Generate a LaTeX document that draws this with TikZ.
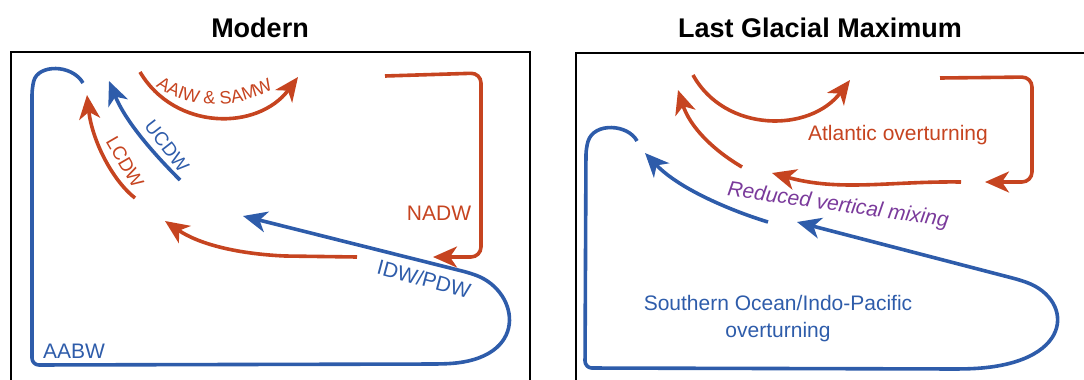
\documentclass[tikz,border=0pt]{standalone}
\usepackage{fontspec}
\setmainfont{Liberation Sans}
\usetikzlibrary{arrows.meta,decorations.text}
\definecolor{ored}{RGB}{198,68,32}
\definecolor{oblue}{RGB}{46,92,170}
\definecolor{opurple}{RGB}{122,58,155}
\begin{document}
\begin{tikzpicture}[x=1pt,y=-1pt,
  flow/.style={line width=3.6pt},
  redflow/.style={flow, draw=ored},
  blueflow/.style={flow, draw=oblue},
  tip/.style={-{Stealth[length=24pt,width=21pt,inset=7pt]}},
  frame/.style={draw=black, line width=2pt},
  title/.style={font=\bfseries\fontsize{27}{29}\selectfont},
  lab/.style={font=\fontsize{21}{23}\selectfont, inner sep=0pt},
  smalllab/.style={font=\fontsize{19}{21}\selectfont, inner sep=0pt}]
\useasboundingbox (0,0) rectangle (1084,380);
\clip (0,0) rectangle (1084,380);

% titles
\node[title] (t1) at (260,28) {Modern};
\node[title] (t2) at (820,28) {Last Glacial Maximum};

% frames
\draw[frame] (11,400) |- (530,52) -- (530,400);
\draw[frame] (576,400) |- (1100,53);

% ---------------- Modern ----------------
% AABW loop
\draw[blueflow, tip, rounded corners=7]
  (83,83) .. controls (72,64) and (38,64) .. (32,88)
  -- (32,365) -- (440,364)
  .. controls (530,360) and (520,292) .. (470,273)
  -- (243,216);
% red deep return
\draw[redflow, tip] (357,257) -- (285,256) .. controls (240,254) and (200,245) .. (165,221);
% NADW
\draw[redflow, tip, rounded corners=10] (385,76) -- (481,73) -- (481,257) -- (433,257);
% AAIW & SAMW
\draw[redflow, tip] (140,72) .. controls (175,131) and (258,131) .. (298,77);
\path[decorate, decoration={text along path, text align=center,
  text={|\fontsize{18}{18}\selectfont\color{ored}|AAIW {\&} SAMW}}]
  (144,76) .. controls (180,113) and (245,113) .. (286,80);
% UCDW
\draw[blueflow, tip] (180,180) .. controls (150,150) and (125,120) .. (109,81);
% LCDW
\draw[redflow, tip] (135,198) .. controls (112,180) and (92,140) .. (87,95);

\node[smalllab, text=oblue, rotate=-52] (ucdw) at (167,146) {UCDW};
\node[smalllab, text=ored, rotate=-60] (lcdw) at (125,162) {LCDW};
\node[lab, text=ored] (nadw) at (439,213) {NADW};
\node[lab, text=oblue, rotate=-15] (idw) at (424,279) {IDW/PDW};
\node[lab, text=oblue] (aabw) at (74,351) {AABW};

% ---------------- LGM ----------------
\draw[blueflow, tip, rounded corners=7]
  (637,141) .. controls (628,124) and (594,122) .. (586,148)
  -- (585,368) -- (960,369)
  .. controls (1075,366) and (1075,300) .. (1020,280)
  -- (797,222);
\draw[blueflow, tip] (768,222) .. controls (735,212) and (680,190) .. (645,153);
% Atlantic overturning
\draw[redflow, tip] (693,75) .. controls (725,133) and (810,133) .. (850,80);
\draw[redflow, tip, rounded corners=10] (940,78) -- (1032,77) -- (1032,182) -- (985,182);
\draw[redflow, tip] (961,182) .. controls (890,181) and (840,192) .. (772,173);
\draw[redflow, tip] (742,167) .. controls (713,150) and (690,127) .. (678,90);

\node[lab, text=ored] (atl) at (898,135) {Atlantic overturning};
\node[lab, text=opurple, font=\itshape\fontsize{21}{23}\selectfont, rotate=-8] (mix) at (838,206) {Reduced vertical mixing};
\node[lab, text=oblue, align=center, font=\fontsize{21}{27}\selectfont] (so) at (778,319) {Southern Ocean/Indo-Pacific\\overturning};
\end{tikzpicture}
\end{document}
